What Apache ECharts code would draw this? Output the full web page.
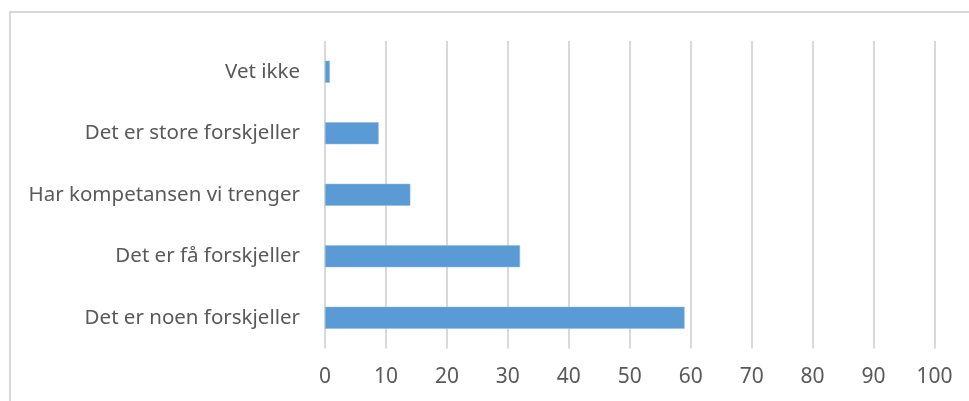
<!DOCTYPE html>
<html>
<head>
<meta charset="utf-8">
<script src="https://cdn.jsdelivr.net/npm/echarts@6/dist/echarts.min.js"></script>
<style>
  html, body { margin: 0; padding: 0; background: #fff; }
  #chart { width: 969px; height: 401px; }
</style>
</head>
<body>
<div id="chart"></div>
<script>
// kategorier (nederst -> øverst)
var categories = [
  'Det er noen forskjeller',
  'Det er få forskjeller',
  'Har kompetansen vi trenger',
  'Det er store forskjeller',
  'Vet ikke'
];
var values = [59, 32, 14, 8.8, 0.8];
var xTicks = [0, 10, 20, 30, 40, 50, 60, 70, 80, 90, 100];

var textColor = '#595959';
var gridColor = '#d9d9d9';
var font = 'Noto Sans';

var chart = echarts.init(document.getElementById('chart'));
chart.setOption({
  backgroundColor: '#ffffff',
  animation: false,
  graphic: [{
    // ramme rundt diagramområdet
    type: 'rect',
    shape: { x: 10, y: 12, width: 1000, height: 500 },
    style: { fill: 'none', stroke: gridColor, lineWidth: 2 },
    silent: true
  }],
  grid: {
    left: 325,
    right: 34.5,
    top: 41,
    bottom: 52.5,
    containLabel: false
  },
  xAxis: {
    type: 'value',
    min: xTicks[0],
    max: xTicks[xTicks.length - 1],
    interval: 10,
    axisLine: { show: false },
    axisTick: { show: false },
    axisLabel: {
      color: textColor,
      fontSize: 21,
      fontFamily: font,
      margin: 18
    },
    splitLine: { show: true, lineStyle: { color: gridColor, width: 2 } }
  },
  yAxis: {
    type: 'category',
    data: categories,
    axisLine: { show: false },
    axisTick: { show: false },
    axisLabel: {
      color: textColor,
      fontSize: 20.5,
      fontFamily: font,
      margin: 25
    },
    splitLine: { show: false }
  },
  series: [{
    type: 'bar',
    data: values,
    barWidth: 22,
    itemStyle: { color: '#5b9bd5', borderColor: '#8fbbe3', borderWidth: 0.5 }
  }]
});
</script>
</body>
</html>
